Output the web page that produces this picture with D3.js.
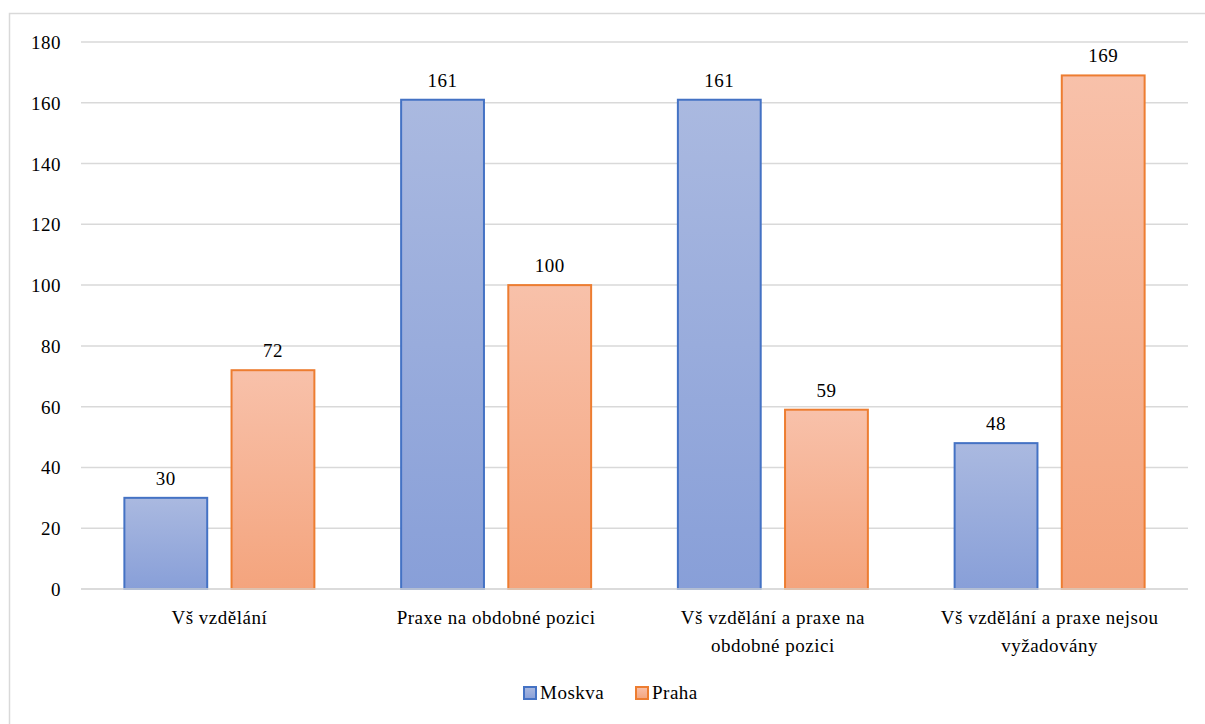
<!DOCTYPE html>
<html>
<head>
<meta charset="utf-8">
<script src="https://cdn.jsdelivr.net/npm/d3@7"></script>
</head>
<body style="margin:0">
<svg id="chart" width="1205" height="724"></svg>
<script>
const categories = [
  ["Vš vzdělání"],
  ["Praxe na obdobné pozici"],
  ["Vš vzdělání a praxe na", "obdobné pozici"],
  ["Vš vzdělání a praxe nejsou", "vyžadovány"]
];
const seriesNames = ["Moskva", "Praha"];
const moskva = [30, 161, 161, 48];
const praha = [72, 100, 59, 169];
const yTicks = [0, 20, 40, 60, 80, 100, 120, 140, 160, 180];

const colors = {
  Moskva: { stroke: "#4472c4", top: "#aab9e0", bottom: "#889fd8" },
  Praha:  { stroke: "#ed7d31", top: "#f8c1aa", bottom: "#f4a47d" }
};
const seriesValues = { Moskva: moskva, Praha: praha };

const svg = d3.select("#chart");
const W = 1205, H = 724;
const plot = { left: 81, right: 1188, top: 42, bottom: 589 };

// outer chart border (only top-left visible in frame)
svg.append("rect")
  .attr("x", 9.5).attr("y", 13.5)
  .attr("width", W + 40).attr("height", H + 40)
  .attr("fill", "none").attr("stroke", "#d9d9d9").attr("stroke-width", 1.5);

const defs = svg.append("defs");
seriesNames.forEach(s => {
  const g = defs.append("linearGradient").attr("id", "grad-" + s)
    .attr("x1", 0).attr("y1", 0).attr("x2", 0).attr("y2", 1);
  g.append("stop").attr("offset", "0%").attr("stop-color", colors[s].top);
  g.append("stop").attr("offset", "100%").attr("stop-color", colors[s].bottom);
});

const y = d3.scaleLinear().domain([0, 180]).range([plot.bottom, plot.top]);
const x0 = d3.scaleBand().domain(d3.range(categories.length))
  .range([plot.left, plot.right]).paddingInner(0).paddingOuter(0);
const groupWidth = 192;
const x1 = d3.scaleBand().domain(seriesNames).range([0, groupWidth]).paddingInner(20 / 96).paddingOuter(0);
const cx = i => x0(i) + x0.bandwidth() / 2;
const barX = (s, i) => cx(i) - groupWidth / 2 + x1(s);

// gridlines
yTicks.forEach(t => {
  svg.append("line")
    .attr("x1", plot.left).attr("x2", plot.right)
    .attr("y1", y(t)).attr("y2", y(t))
    .attr("stroke", "#d9d9d9").attr("stroke-width", 1.5);
});

function addText(x, yy, txt, anchor) {
  const t = svg.append("text")
    .attr("x", x).attr("y", yy)
    .attr("text-anchor", anchor || "start")
    .attr("font-family", "Liberation Serif")
    .attr("font-size", 19)
    .style("font-family", '"Liberation Serif"', "important")
    .style("font-size", "19px")
    .style("letter-spacing", "0.5px")
    .style("fill", "#000");
  t.text(txt);
  return t;
}

// y tick labels
yTicks.forEach(t => addText(61, y(t) + 7, t, "end"));

// bars
seriesNames.forEach(s => {
  seriesValues[s].forEach((v, i) => {
    svg.append("rect")
      .attr("x", barX(s, i) + 1)
      .attr("width", x1.bandwidth() - 2)
      .attr("y", y(v))
      .attr("height", y(0) - y(v))
      .attr("fill", `url(#grad-${s})`)
      .attr("stroke", colors[s].stroke)
      .attr("stroke-width", 2);
    addText(barX(s, i) + x1.bandwidth() / 2, y(v) - 13, v, "middle");
  });
});

// baseline redraw over bars
svg.append("line")
  .attr("x1", plot.left).attr("x2", plot.right)
  .attr("y1", y(0)).attr("y2", y(0))
  .attr("stroke", "#d9d9d9").attr("stroke-width", 1.5);

// category labels
categories.forEach((lines, i) => {
  lines.forEach((ln, j) => addText(cx(i), 624 + j * 28, ln, "middle"));
});

// legend
const legendItems = [
  { name: "Moskva", x: 523 },
  { name: "Praha", x: 635 }
];
legendItems.forEach(it => {
  svg.append("rect")
    .attr("x", it.x + 1).attr("y", 687)
    .attr("width", 12).attr("height", 12)
    .attr("fill", `url(#grad-${it.name})`)
    .attr("stroke", colors[it.name].stroke).attr("stroke-width", 2);
  addText(it.x + 17, 699, it.name, "start");
});
</script>
</body>
</html>
